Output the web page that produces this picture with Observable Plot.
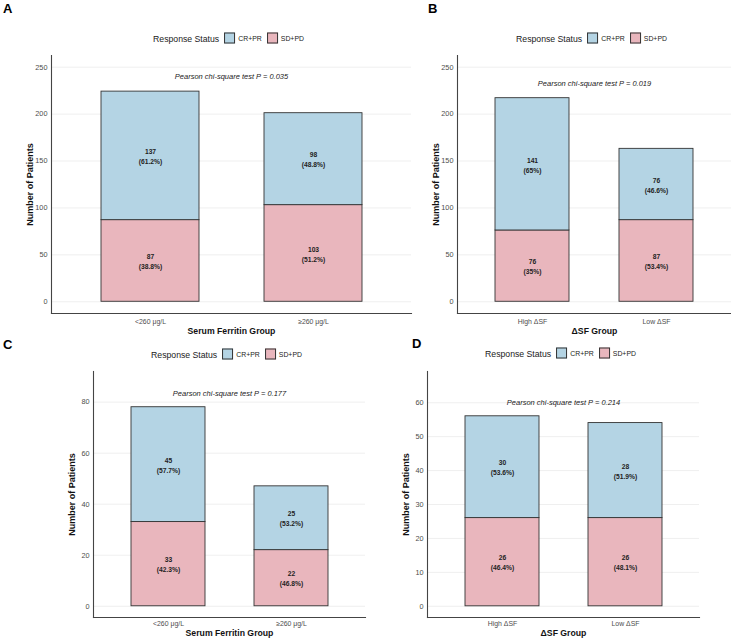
<!DOCTYPE html>
<html>
<head>
<meta charset="utf-8">
<script src="https://cdn.jsdelivr.net/npm/d3@7"></script>
<script src="https://cdn.jsdelivr.net/npm/@observablehq/plot@0.6"></script>
<style>
  body { margin: 0; background: #fff; font-family: "Liberation Sans", Arial, sans-serif; }
  #root { position: relative; width: 731px; height: 638px; overflow: hidden; }
  .panel { position: absolute; }
  .letter { position: absolute; font-weight: bold; font-size: 13px; color: #000; line-height: 1; }
  .legend { position: absolute; display: flex; align-items: center; transform: translate(-50%, -50%); white-space: nowrap; color: #222; }
  .legend .ttl { font-size: 8.7px; margin-right: 5px; }
  .legend .key { width: 9px; height: 9px; border: 1px solid #333; margin-right: 3px; }
  .legend .lab { font-size: 6.9px; margin-right: 5px; }
</style>
</head>
<body>
<div id="root"></div>
<script>
// ---------- data ----------
const statuses = ["CR+PR", "SD+PD"];
const statusColors = ["#b4d4e4", "#e9b6bd"];

const groupsSF = ["<260 μg/L", "≥260 μg/L"];
const groupsDSF = ["High ΔSF", "Low ΔSF"];

// Panel A: serum ferritin group (all patients)
const aCR = [137, 98];
const aSD = [87, 103];
const aCRpct = ["61.2%", "48.8%"];
const aSDpct = ["38.8%", "51.2%"];

// Panel B: ΔSF group
const bCR = [141, 76];
const bSD = [76, 87];
const bCRpct = ["65%", "46.6%"];
const bSDpct = ["35%", "53.4%"];

// Panel C: serum ferritin group (subset)
const cCR = [45, 25];
const cSD = [33, 22];
const cCRpct = ["57.7%", "53.2%"];
const cSDpct = ["42.3%", "46.8%"];

// Panel D: ΔSF group (subset)
const dCR = [30, 28];
const dSD = [26, 26];
const dCRpct = ["53.6%", "51.9%"];
const dSDpct = ["46.4%", "48.1%"];

const pValues = ["0.035", "0.019", "0.177", "0.214"];
const panelLetters = ["A", "B", "C", "D"];
const xTitles = ["Serum Ferritin Group", "ΔSF Group", "Serum Ferritin Group", "ΔSF Group"];
const yTitle = "Number of Patients";

const yTicksA = [0, 50, 100, 150, 200, 250];
const yTicksB = [0, 50, 100, 150, 200, 250];
const yTicksC = [0, 20, 40, 60, 80];
const yTicksD = [0, 10, 20, 30, 40, 50, 60];

const yDomainA = [-12.5, 262.5];
const yDomainB = [-12.5, 262.5];
const yDomainC = [-4.4, 92];
const yDomainD = [-3.3, 69.2];

// ---------- build ----------
function rowsFor(groups, cr, sd, crp, sdp) {
  const rows = [];
  groups.forEach((g, i) => rows.push({group: g, status: "SD+PD", count: sd[i], pct: sdp[i]}));
  groups.forEach((g, i) => rows.push({group: g, status: "CR+PR", count: cr[i], pct: crp[i]}));
  return rows;
}

const panels = [
  {rows: rowsFor(groupsSF, aCR, aSD, aCRpct, aSDpct), groups: groupsSF, ticks: yTicksA, domain: yDomainA,
   left: 0, top: 45, width: 425, height: 300, mL: 51, mR: 14, mT: 10, mB: 32, tickPad: 6, titleDy: 18,
   letterX: 3, letterY: 2, legendY: 38},
  {rows: rowsFor(groupsDSF, bCR, bSD, bCRpct, bSDpct), groups: groupsDSF, ticks: yTicksB, domain: yDomainB,
   left: 425, top: 45, width: 306, height: 300, mL: 32, mR: 0, mT: 10, mB: 32, tickPad: 6, titleDy: 18,
   letterX: 428, letterY: 2, legendY: 38},
  {rows: rowsFor(groupsSF, cCR, cSD, cCRpct, cSDpct), groups: groupsSF, ticks: yTicksC, domain: yDomainC,
   left: 0, top: 362, width: 370, height: 276, mL: 93, mR: 5, mT: 9, mB: 21, tickPad: 4, titleDy: 16,
   letterX: 3, letterY: 338, legendY: 354},
  {rows: rowsFor(groupsDSF, dCR, dSD, dCRpct, dSDpct), groups: groupsDSF, ticks: yTicksD, domain: yDomainD,
   left: 370, top: 362, width: 361, height: 276, mL: 57, mR: 32, mT: 9, mB: 21, tickPad: 4, titleDy: 16,
   letterX: 412, letterY: 337, legendY: 353}
];

const root = document.getElementById("root");

panels.forEach((p, k) => {
  const totals = p.groups.map(g => d3.sum(p.rows.filter(r => r.group === g), r => r.count));
  const pY = d3.max(totals) * 1.07;

  const chart = Plot.plot({
    width: p.width,
    height: p.height,
    marginLeft: p.mL,
    marginRight: p.mR,
    marginTop: p.mT,
    marginBottom: p.mB,
    style: {fontFamily: "'Liberation Sans', Arial, sans-serif", fontSize: "7px", color: "#222", background: "transparent"},
    x: {domain: p.groups, paddingInner: 0.4, paddingOuter: 0.3, label: null},
    y: {domain: p.domain, label: null},
    color: {domain: statuses, range: statusColors},
    marks: [
      Plot.gridY(p.ticks, {stroke: "#ebebeb", strokeOpacity: 1, strokeWidth: 0.8}),
      Plot.axisY(p.ticks, {tickSize: 0, tickPadding: 4, fontSize: 7.3, fill: "#4d4d4d", label: null}),
      Plot.axisX({tickSize: 0, tickPadding: p.tickPad, fontSize: 6.9, fill: "#4d4d4d", label: null}),
      Plot.barY(p.rows, Plot.stackY({x: "group", y: "count", fill: "status", stroke: "#333", strokeWidth: 0.9})),
      Plot.text(p.rows, Plot.stackY({x: "group", y: "count", z: "status",
        text: d => `${d.count}\n(${d.pct})`, fontWeight: "bold", fontSize: 6.7, lineHeight: 1.5, fill: "#222"})),
      Plot.text([`Pearson chi-square test P = ${pValues[k]}`], {y: () => pY,
        text: d => d, fontStyle: "italic", fontSize: 7.5, fill: "#222"}),
      Plot.frame({anchor: "left", stroke: "#444", strokeWidth: 1.1}),
      Plot.frame({anchor: "bottom", stroke: "#444", strokeWidth: 1.1}),
      Plot.text([yTitle], {frameAnchor: "left", dx: -21, rotate: -90, textAnchor: "middle", lineAnchor: "middle",
        text: d => d, fontWeight: "bold", fontSize: 9, fill: "#111"}),
      Plot.text([xTitles[k]], {frameAnchor: "bottom", dy: p.titleDy, lineAnchor: "middle", textAnchor: "middle",
        text: d => d, fontWeight: "bold", fontSize: 8.7, fill: "#111"})
    ]
  });
  chart.classList.add("panel");
  chart.style.left = p.left + "px";
  chart.style.top = p.top + "px";
  root.appendChild(chart);

  const letter = document.createElement("div");
  letter.className = "letter";
  letter.textContent = panelLetters[k];
  letter.style.left = p.letterX + "px";
  letter.style.top = p.letterY + "px";
  root.appendChild(letter);

  const legend = document.createElement("div");
  legend.className = "legend";
  legend.style.left = (p.left + p.mL + (p.width - p.mL - p.mR) / 2) + "px";
  legend.style.top = p.legendY + "px";
  let html = `<span class="ttl">Response Status</span>`;
  statuses.forEach((s, i) => {
    html += `<span class="key" style="background:${statusColors[i]}"></span><span class="lab">${s}</span>`;
  });
  legend.innerHTML = html;
  root.appendChild(legend);
});
</script>
</body>
</html>
